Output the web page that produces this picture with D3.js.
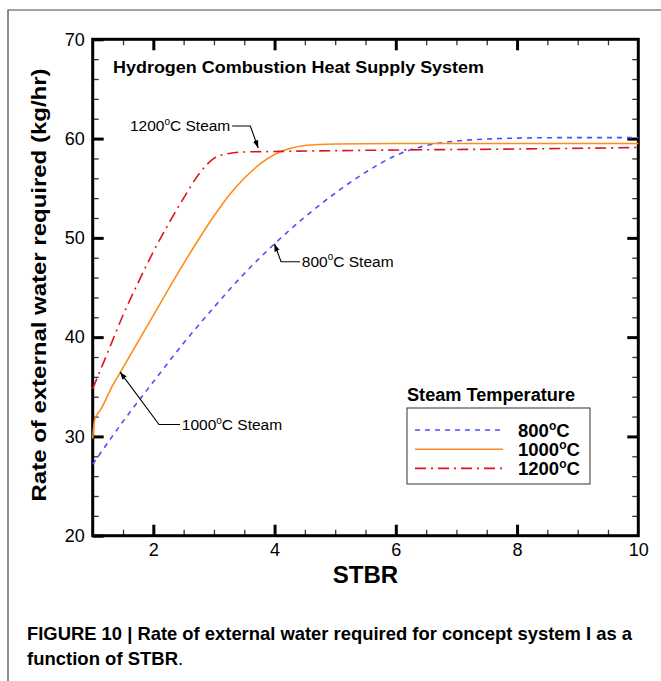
<!DOCTYPE html>
<html>
<head>
<meta charset="utf-8">
<script src="https://cdn.jsdelivr.net/npm/d3@7"></script>
<style>
  body { margin: 0; background: #fff; }
  svg { display: block; font-family: "Liberation Sans", Arial, sans-serif; }
</style>
</head>
<body>
<div id="chart"></div>
<script>
// series (STBR vs kg/hr)
const stbr800 = [1.0, 1.5, 2.0, 2.5, 3.0, 3.5, 4.0, 4.5, 5.0, 5.5, 6.0, 6.5, 7.0, 7.5, 8.0, 9.0, 10.0];
const water800 = [27.2, 31.5, 35.5, 39.4, 43.0, 46.4, 49.4, 52.1, 54.5, 56.6, 58.3, 59.3, 59.75, 59.95, 60.05, 60.1, 60.1];

const stbr1000 = [1.0, 1.03, 1.08, 1.12, 1.2, 1.3, 1.45, 2.0, 2.5, 3.0, 3.25, 3.5, 3.75, 4.0, 4.25, 4.5, 5.0, 6.0, 8.0, 10.0];
const water1000 = [29.8, 31.6, 32.3, 32.6, 33.5, 34.8, 36.4, 42.2, 47.4, 52.2, 54.3, 56.0, 57.4, 58.4, 59.0, 59.3, 59.45, 59.5, 59.5, 59.5];

const stbr1200 = [1.0, 1.25, 1.5, 1.75, 2.0, 2.25, 2.5, 2.75, 3.0, 3.25, 3.5, 4.0, 6.0, 8.0, 10.0];
const water1200 = [34.8, 38.5, 42.2, 45.5, 48.6, 51.4, 54.0, 56.4, 58.0, 58.5, 58.65, 58.7, 58.85, 58.95, 59.1];

const seriesNames = ["800", "1000", "1200"];
const xTicks = [2, 4, 6, 8, 10];
const yTicks = [20, 30, 40, 50, 60, 70];

const width = 661, height = 681;
const svg = d3.select("#chart").append("svg")
    .attr("width", width)
    .attr("height", height);

// outer figure frame (left + top only)
svg.append("path")
    .attr("d", "M8,681V10H661")
    .attr("fill", "none")
    .attr("stroke", "#444")
    .attr("stroke-width", 1.2);

const x = d3.scaleLinear().domain([1, 10]).range([92.7, 638.3]);
const y = d3.scaleLinear().domain([20, 70]).range([535.7, 39.3]);

const xMinor = d3.range(1.5, 10, 0.5).filter(v => v % 2 !== 0);
const yMinor = d3.range(22, 70, 2).filter(v => v % 10 !== 0);

function styleAxis(g, w, col) {
    g.select(".domain").remove();
    g.selectAll(".tick line").attr("stroke", col).attr("stroke-width", w);
    g.selectAll(".tick text").attr("fill", "#000").attr("font-size", 18)
        .attr("font-family", "Liberation Sans, Arial, sans-serif");
}

// major ticks, inward
svg.append("g").attr("transform", `translate(0,${y(20)})`)
    .call(d3.axisBottom(x).tickValues(xTicks.slice(0, 4)).tickSizeInner(-11).tickPadding(8))
    .call(g => styleAxis(g, 3, "#000"));
svg.append("g").attr("transform", `translate(0,${y(20)})`)
    .call(d3.axisBottom(x).tickValues([10]).tickSize(0).tickPadding(8))
    .call(g => styleAxis(g, 3, "#000"));
svg.append("g").attr("transform", `translate(0,${y(70)})`)
    .call(d3.axisTop(x).tickValues(xTicks.slice(0, 4)).tickSizeInner(-11).tickFormat(""))
    .call(g => styleAxis(g, 3, "#000"));
svg.append("g").attr("transform", `translate(${x(1)},0)`)
    .call(d3.axisLeft(y).tickValues(yTicks).tickSizeInner(-11).tickPadding(8))
    .call(g => styleAxis(g, 3, "#000"));
svg.append("g").attr("transform", `translate(${x(10)},0)`)
    .call(d3.axisRight(y).tickValues(yTicks.slice(1, 5)).tickSizeInner(-11).tickFormat(""))
    .call(g => styleAxis(g, 3, "#000"));

// minor ticks
svg.append("g").attr("transform", `translate(0,${y(20)})`)
    .call(d3.axisBottom(x).tickValues(xMinor).tickSizeInner(-6).tickFormat(""))
    .call(g => styleAxis(g, 1.3, "#333"));
svg.append("g").attr("transform", `translate(0,${y(70)})`)
    .call(d3.axisTop(x).tickValues(xMinor).tickSizeInner(-6).tickFormat(""))
    .call(g => styleAxis(g, 1.3, "#333"));
svg.append("g").attr("transform", `translate(${x(1)},0)`)
    .call(d3.axisLeft(y).tickValues(yMinor).tickSizeInner(-6).tickFormat(""))
    .call(g => styleAxis(g, 1.3, "#333"));
svg.append("g").attr("transform", `translate(${x(10)},0)`)
    .call(d3.axisRight(y).tickValues(yMinor).tickSizeInner(-6).tickFormat(""))
    .call(g => styleAxis(g, 1.3, "#333"));

// plot frame
svg.append("rect")
    .attr("x", x(1)).attr("y", y(70))
    .attr("width", x(10) - x(1)).attr("height", y(20) - y(70))
    .attr("fill", "none").attr("stroke", "#000").attr("stroke-width", 3);

// curves
const styles = {
    "800": {color: "#4d4dff", dash: "5,5"},
    "1000": {color: "#ff8c1a", dash: null},
    "1200": {color: "#e0141e", dash: "11,5,2,5"}
};
const seriesData = {
    "800": stbr800.map((s, i) => [s, water800[i]]),
    "1000": stbr1000.map((s, i) => [s, water1000[i]]),
    "1200": stbr1200.map((s, i) => [s, water1200[i]])
};
const line = d3.line().x(d => x(d[0])).y(d => y(d[1])).curve(d3.curveMonotoneX);

seriesNames.forEach(k => {
    svg.append("path")
        .datum(seriesData[k])
        .attr("fill", "none")
        .attr("stroke", styles[k].color)
        .attr("stroke-width", 1.6)
        .attr("stroke-dasharray", styles[k].dash)
        .attr("d", line);
});

// helper for text with superscript degree sign
function degText(g, num, rest, sz, supSz, weight) {
    const t = g.append("text").attr("font-size", sz).attr("font-weight", weight);
    t.append("tspan").text(num);
    t.append("tspan").attr("dy", -sz * 0.4).attr("font-size", supSz).text("o");
    t.append("tspan").attr("dy", sz * 0.4).text(rest);
    return t;
}

// title
svg.append("text")
    .attr("x", 113).attr("y", 73)
    .attr("font-size", 16.5).attr("font-weight", "bold")
    .attr("textLength", 371).attr("lengthAdjust", "spacingAndGlyphs")
    .text("Hydrogen Combustion Heat Supply System");

// annotations (data coordinates): text anchor, leader start, elbow, arrow tip
svg.append("defs").append("marker")
    .attr("id", "arr").attr("viewBox", "0 0 10 10")
    .attr("refX", 10).attr("refY", 5)
    .attr("markerWidth", 7).attr("markerHeight", 7)
    .attr("orient", "auto")
    .append("path").attr("d", "M0,1.5L10,5L0,8.5Z").attr("fill", "#000");

const annos = [
    {num: "1200", text: [3.27, 60.76], anchor: "end", start: [3.30, 61.26], elbow: [3.60, 61.26], tip: [3.73, 59.05]},
    {num: "800", text: [4.45, 47.1], anchor: "start", start: [4.42, 47.6], elbow: [4.107, 47.6], tip: [3.997, 49.4]},
    {num: "1000", text: [2.47, 30.65], anchor: "start", start: [2.44, 31.2], elbow: [2.094, 31.2], tip: [1.45, 36.5]}
];
annos.forEach(a => {
    const g = svg.append("g");
    degText(g, a.num, "C Steam", 15.5, 10, "normal")
        .attr("x", x(a.text[0])).attr("y", y(a.text[1]))
        .attr("text-anchor", a.anchor);
    g.append("path")
        .attr("d", d3.line()([a.start, a.elbow, a.tip].map(p => [x(p[0]), y(p[1])])))
        .attr("fill", "none").attr("stroke", "#000").attr("stroke-width", 1.1)
        .attr("marker-end", "url(#arr)");
});

// legend
const lg = svg.append("g");
lg.append("text").attr("x", 407).attr("y", 401)
    .attr("font-size", 17.5).attr("font-weight", "bold")
    .attr("textLength", 168).attr("lengthAdjust", "spacingAndGlyphs")
    .text("Steam Temperature");
lg.append("rect").attr("x", 407).attr("y", 408)
    .attr("width", 183).attr("height", 76)
    .attr("fill", "#fff").attr("stroke", "#333").attr("stroke-width", 1);
seriesNames.forEach((k, i) => {
    const yy = 430 + i * 19.2;
    lg.append("line").attr("x1", 415).attr("x2", 503).attr("y1", yy).attr("y2", yy)
        .attr("stroke", styles[k].color).attr("stroke-width", 1.6)
        .attr("stroke-dasharray", styles[k].dash);
    degText(lg, k, "C", 18.5, 12, "bold").attr("x", 518).attr("y", yy + 7);
});

// axis titles
svg.append("text")
    .attr("x", (x(1) + x(10)) / 2).attr("y", 583)
    .attr("text-anchor", "middle")
    .attr("font-size", 24).attr("font-weight", "bold")
    .text("STBR");
svg.append("text")
    .attr("transform", "translate(46,285) rotate(-90)")
    .attr("text-anchor", "middle")
    .attr("font-size", 21).attr("font-weight", "bold")
    .attr("textLength", 433).attr("lengthAdjust", "spacingAndGlyphs")
    .text("Rate of external water required (kg/hr)");

// caption
const cap = svg.append("g").attr("font-weight", "bold").attr("font-size", 18.5)
    .attr("font-family", "'Liberation Sans Narrow', 'Liberation Sans', Arial, sans-serif");
cap.append("text").attr("x", 27).attr("y", 640)
    .attr("textLength", 605).attr("lengthAdjust", "spacingAndGlyphs")
    .text("FIGURE 10 | Rate of external water required for concept system I as a");
const l2 = cap.append("text").attr("x", 27).attr("y", 665);
l2.append("tspan").text("function of STBR");
l2.append("tspan").attr("font-weight", "normal").text(".");
</script>
</body>
</html>
